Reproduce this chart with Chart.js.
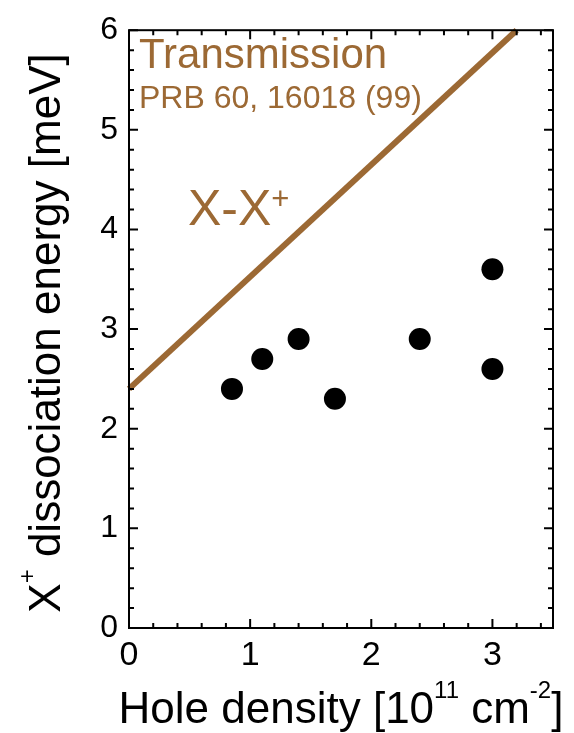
<!DOCTYPE html>
<html>
<head>
<meta charset="utf-8">
<script src="https://cdn.jsdelivr.net/npm/chart.js@4"></script>
<style>
  body { margin: 0; background: #fff; }
  canvas { display: block; }
</style>
</head>
<body>
<canvas id="c" width="574" height="733"></canvas>
<script>
// hole density (1e11 cm^-2) and X+ dissociation energy (meV)
var densityX = [0.85, 1.1, 1.4, 1.7, 2.4, 3.0, 3.0];
var energyY = [2.4, 2.7, 2.9, 2.3, 2.9, 3.6, 2.6];

// transmission line X-X+ (PRB 60, 16018)
var lineX = [0, 3.2];
var lineY = [2.4, 6.0];

var xTicks = [0, 1, 2, 3];
var yTicks = [0, 1, 2, 3, 4, 5, 6];

var brown = '#9c6934';
var FONT = "'Liberation Sans', Arial, sans-serif";

function pts(xs, ys) {
  return xs.map(function (x, i) { return { x: x, y: ys[i] }; });
}

// draws text pieces in a row, some of them raised as superscripts
function drawPieces(ctx, pieces, x, y, center) {
  var total = 0;
  pieces.forEach(function (p) {
    ctx.font = p.size + 'px ' + FONT;
    p.w = ctx.measureText(p.t).width;
    total += p.w;
  });
  var cx = center ? x - total / 2 : x;
  pieces.forEach(function (p) {
    ctx.font = p.size + 'px ' + FONT;
    ctx.fillText(p.t, cx, y - (p.up || 0));
    cx += p.w;
  });
}

var frame = {
  id: 'frame',
  afterDraw: function (chart) {
    var ctx = chart.ctx, a = chart.chartArea;
    var xs = chart.scales.x, ys = chart.scales.y;
    ctx.save();
    ctx.strokeStyle = '#000';
    ctx.lineWidth = 2;
    ctx.strokeRect(a.left, a.top, a.right - a.left, a.bottom - a.top);
    ctx.beginPath();
    for (var i = 0; i <= 17; i++) {
      var px = xs.getPixelForValue(i * 0.2);
      var len = i % 5 === 0 ? 9 : 5;
      ctx.moveTo(px, a.bottom); ctx.lineTo(px, a.bottom - len);
      ctx.moveTo(px, a.top); ctx.lineTo(px, a.top + len);
    }
    for (var j = 0; j <= 30; j++) {
      var py = ys.getPixelForValue(j * 0.2);
      var l2 = j % 5 === 0 ? 9 : 5;
      ctx.moveTo(a.left, py); ctx.lineTo(a.left + l2, py);
      ctx.moveTo(a.right, py); ctx.lineTo(a.right - l2, py);
    }
    ctx.stroke();

    // axis titles
    ctx.fillStyle = '#000';
    ctx.textBaseline = 'alphabetic';
    ctx.textAlign = 'left';
    drawPieces(ctx, [
      { t: 'Hole density [10', size: 44 },
      { t: '11', size: 24, up: 25 },
      { t: ' cm', size: 44 },
      { t: '-2', size: 24, up: 25 },
      { t: ']', size: 44 }
    ], (a.left + a.right) / 2, 723, true);

    ctx.save();
    ctx.translate(60, 333);
    ctx.rotate(-Math.PI / 2);
    drawPieces(ctx, [
      { t: 'X', size: 44 },
      { t: '+', size: 24, up: 25 },
      { t: ' dissociation energy [meV]', size: 44 }
    ], 0, 0, true);
    ctx.restore();

    // annotations
    ctx.fillStyle = brown;
    ctx.font = '42px ' + FONT;
    ctx.fillText('Transmission', 139, 68);
    ctx.font = '32px ' + FONT;
    ctx.fillText('PRB 60, 16018 (99)', 139, 108);
    drawPieces(ctx, [
      { t: 'X-X', size: 50 },
      { t: '+', size: 31, up: 16 }
    ], 188, 225, false);
    ctx.restore();
  }
};

new Chart(document.getElementById('c').getContext('2d'), {
  type: 'scatter',
  data: {
    datasets: [{
      type: 'line',
      data: pts(lineX, lineY),
      borderColor: brown,
      borderWidth: 6,
      pointRadius: 0,
      fill: false,
      clip: false
    }, {
      data: pts(densityX, energyY),
      backgroundColor: '#000',
      borderWidth: 0,
      pointRadius: 11,
      pointHoverRadius: 11
    }]
  },
  options: {
    responsive: false,
    devicePixelRatio: 1,
    animation: false,
    layout: { padding: { top: 23, right: 21, left: 0, bottom: 0 } },
    plugins: { legend: { display: false }, tooltip: { enabled: false } },
    scales: {
      x: {
        type: 'linear', min: 0, max: 3.5,
        grid: { display: false, drawTicks: false },
        border: { display: false },
        afterBuildTicks: function (s) { s.ticks = xTicks.map(function (v) { return { value: v }; }); },
        afterFit: function (s) { s.height = 105; },
        ticks: { color: '#000', padding: 7, font: { size: 34, family: FONT } }
      },
      y: {
        type: 'linear', min: 0, max: 6,
        grid: { display: false, drawTicks: false },
        border: { display: false },
        afterBuildTicks: function (s) { s.ticks = yTicks.map(function (v) { return { value: v }; }); },
        afterFit: function (s) { s.width = 129; },
        ticks: { color: '#000', padding: 11, font: { size: 32, family: FONT } }
      }
    }
  },
  plugins: [frame]
});
</script>
</body>
</html>
